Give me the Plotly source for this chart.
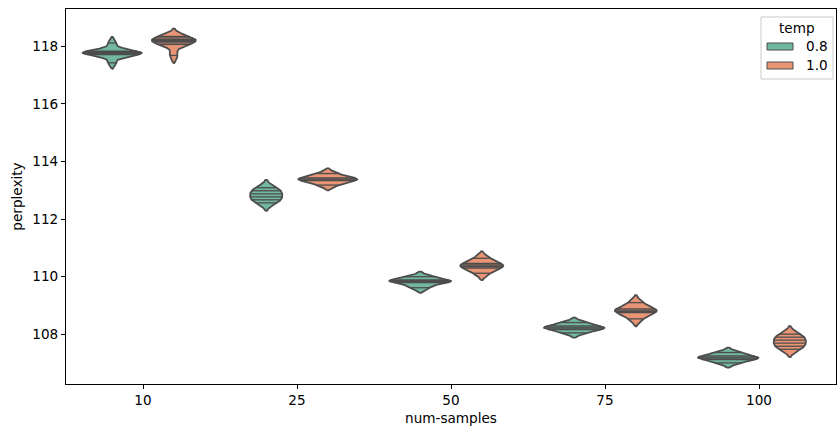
import numpy as np
import plotly.graph_objects as go

# ---------------- data ----------------
categories = ["10", "25", "50", "75", "100"]
temps = ["0.8", "1.0"]

ppl_t08_10 = [118.118, 117.835, 117.818, 117.800, 117.783, 117.766, 117.748, 117.731, 117.714, 117.431]
ppl_t08_25 = [113.089, 112.984, 112.879, 112.774, 112.669, 112.564]
ppl_t08_50 = [109.997, 109.889, 109.858, 109.823, 109.792, 109.615]
ppl_t08_75 = [108.405, 108.288, 108.244, 108.208, 108.163, 108.047]
ppl_t08_100 = [107.363, 107.247, 107.202, 107.166, 107.122, 107.005]

ppl_t10_10 = [118.347, 118.295, 118.243, 118.208, 118.174, 118.122, 118.069, 117.688]
ppl_t10_25 = [113.582, 113.430, 113.398, 113.366, 113.334, 113.182]
ppl_t10_50 = [110.639, 110.457, 110.405, 110.352, 110.300, 110.118]
ppl_t10_75 = [109.097, 108.883, 108.838, 108.793, 108.748, 108.534]
ppl_t10_100 = [108.002, 107.897, 107.792, 107.687, 107.582, 107.477]

series = {
    "0.8": [ppl_t08_10, ppl_t08_25, ppl_t08_50, ppl_t08_75, ppl_t08_100],
    "1.0": [ppl_t10_10, ppl_t10_25, ppl_t10_50, ppl_t10_75, ppl_t10_100],
}

# ---------------- style ----------------
fill_colors = {"0.8": "#71b7a1", "1.0": "#e99575"}
edge_color = "#4d4d4d"
dodge = {"0.8": -0.2, "1.0": 0.2}
half_width = 0.2
FONT = "DejaVu Sans"
FS = 13.6

W, H = 838, 433
L, R, T, B = 66, 2, 9, 49


def kde(vals, cut=2, gridsize=100):
    v = np.asarray(vals, dtype=float)
    n = len(v)
    bw = v.std(ddof=1) * n ** (-0.2)
    grid = np.linspace(v.min() - cut * bw, v.max() + cut * bw, gridsize)
    dens = np.exp(-0.5 * ((grid[:, None] - v[None, :]) / bw) ** 2).sum(1) / (n * bw * np.sqrt(2 * np.pi))
    return v, grid, dens


kdes = {t: [kde(vals) for vals in series[t]] for t in temps}
norm = max(d.max() for t in temps for (_, _, d) in kdes[t])

fig = go.Figure()
for t in temps:
    for i, (v, grid, dens) in enumerate(kdes[t]):
        c = i + dodge[t]
        w = dens / norm * half_width
        xs = np.concatenate([c - w, (c + w)[::-1], [c - w[0]]])
        ys = np.concatenate([grid, grid[::-1], [grid[0]]])
        fig.add_trace(go.Scatter(
            x=xs, y=ys, mode="lines", fill="toself", fillcolor=fill_colors[t],
            line=dict(color=edge_color, width=1.8), showlegend=False, hoverinfo="skip"))
        sw = np.interp(v, grid, dens) / norm * half_width
        sx, sy = [], []
        for val, s in zip(v, sw):
            sx += [c - s, c + s, None]
            sy += [val, val, None]
        fig.add_trace(go.Scatter(
            x=sx, y=sy, mode="lines", line=dict(color=edge_color, width=1.3),
            showlegend=False, hoverinfo="skip"))

# ---------------- manual legend ----------------
pw, ph = W - L - R, H - T - B


def px(x):
    return (x - L) / pw


def py(y):
    return (H - B - y) / ph


shapes = [
    dict(type="rect", xref="paper", yref="paper", x0=px(761), x1=px(833), y0=py(79), y1=py(17),
         line=dict(color="#cccccc", width=1), fillcolor="rgba(255,255,255,0.8)", layer="above"),
]
annotations = [
    dict(text="temp", x=px(797), y=py(28), xref="paper", yref="paper", showarrow=False,
         font=dict(family=FONT, size=FS, color="black"), xanchor="center", yanchor="middle"),
]
for k, t in enumerate(temps):
    yc = 46.5 + k * 19
    shapes.append(dict(type="rect", xref="paper", yref="paper", x0=px(767), x1=px(793),
                       y0=py(yc + 3.5), y1=py(yc - 3.5), fillcolor=fill_colors[t],
                       line=dict(color=edge_color, width=1), layer="above"))
    annotations.append(dict(text=t, x=px(804), y=py(yc), xref="paper", yref="paper", showarrow=False,
                            font=dict(family=FONT, size=FS, color="black"),
                            xanchor="left", yanchor="middle"))

fig.update_layout(
    width=W, height=H,
    margin=dict(l=L, r=R, t=T, b=B),
    paper_bgcolor="white", plot_bgcolor="white",
    font=dict(family=FONT, size=FS, color="black"),
    showlegend=False,
    shapes=shapes, annotations=annotations,
    xaxis=dict(
        range=[-0.5, 4.5], tickmode="array", tickvals=list(range(len(categories))), ticktext=categories,
        showgrid=False, zeroline=False, showline=True, linecolor="black", linewidth=1, mirror=True,
        ticks="outside", ticklen=4, tickwidth=1, tickcolor="black",
        title=dict(text="num-samples", standoff=6, font=dict(family=FONT, size=FS)),
    ),
    yaxis=dict(
        range=[106.27, 119.30], tickmode="array", tickvals=[108, 110, 112, 114, 116, 118],
        showgrid=False, zeroline=False, showline=True, linecolor="black", linewidth=1, mirror=True,
        ticks="outside", ticklen=4, tickwidth=1, tickcolor="black",
        title=dict(text="perplexity", standoff=6, font=dict(family=FONT, size=FS)),
    ),
)

fig.write_html("out.html", config={"displayModeBar": False},
               post_script="document.body.style.margin='0';document.body.style.overflow='hidden';")
